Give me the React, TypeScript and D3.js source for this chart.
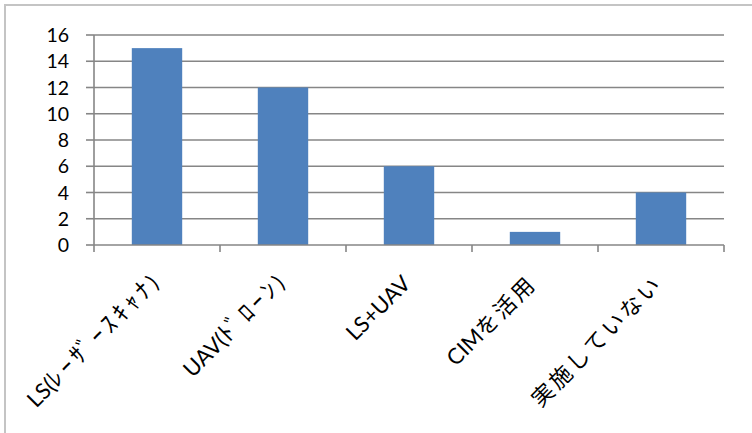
import React from "react";
import * as d3 from "d3";

const categories = ["LS(ﾚｰｻﾞｰｽｷｬﾅ)", "UAV(ﾄﾞﾛｰﾝ)", "LS+UAV", "CIMを活用", "実施していない"];
const values = [15, 12, 6, 1, 4];
const yTicks = [0, 2, 4, 6, 8, 10, 12, 14, 16];

const W = 752;
const H = 433;
const plot = { left: 94, right: 724, top: 35, bottom: 245 };

type Run = { text: string; kind: "latin" | "cjk" | "half" };

function splitRuns(s: string): Run[] {
  const runs: Run[] = [];
  for (const ch of Array.from(s)) {
    const code = ch.codePointAt(0)!;
    const kind: Run["kind"] =
      code >= 0xff61 && code <= 0xff9f ? "half" : code >= 0x3000 ? "cjk" : "latin";
    const last = runs[runs.length - 1];
    if (last && last.kind === kind) last.text += ch;
    else runs.push({ text: ch, kind });
  }
  return runs;
}

const spacing: Record<Run["kind"], number> = { latin: 0, cjk: 3, half: 4 };
const sizes: Record<Run["kind"], number> = { latin: 22, cjk: 22, half: 24 };

export default function App() {
  const x = d3.scaleBand<string>().domain(categories).range([plot.left, plot.right]).padding(0);
  const y = d3.scaleLinear().domain([0, 16]).range([plot.bottom, plot.top]);
  const bw = x.bandwidth() * 0.4;
  const gridColor = "#868686";
  const edges = categories.map((c) => x(c)!).concat([plot.right]);

  return (
    <svg width={W} height={H} style={{ position: "absolute", left: 0, top: 0, background: "#fff" }}>
      <rect x={5} y={5} width={W + 20} height={H + 20} fill="#fff" stroke="#c4c4c4" strokeWidth={2} />
      {yTicks.map((t) => (
        <g key={t}>
          {t > 0 && (
            <line x1={plot.left} x2={plot.right} y1={y(t)} y2={y(t)} stroke={gridColor} strokeWidth={1.6} />
          )}
          <line x1={plot.left - 8} x2={plot.left} y1={y(t)} y2={y(t)} stroke={gridColor} strokeWidth={1.6} />
          <text
            x={69}
            y={y(t)}
            dy="0.36em"
            textAnchor="end"
            fontFamily="Lato, 'Noto Sans CJK JP', sans-serif"
            fontSize={19.5}
            fill="#000"
          >
            {t}
          </text>
        </g>
      ))}
      {categories.map((c, i) => (
        <rect
          key={c}
          x={x(c)! + (x.bandwidth() - bw) / 2}
          y={y(values[i])}
          width={bw}
          height={y(0) - y(values[i])}
          fill="#4f81bd"
        />
      ))}
      <line x1={plot.left} x2={plot.left} y1={plot.top} y2={plot.bottom} stroke={gridColor} strokeWidth={1.6} />
      <line x1={plot.left} x2={plot.right} y1={plot.bottom} y2={plot.bottom} stroke={gridColor} strokeWidth={1.6} />
      {edges.map((e, i) => (
        <line key={i} x1={e} x2={e} y1={plot.bottom} y2={plot.bottom + 7} stroke={gridColor} strokeWidth={1.6} />
      ))}
      {categories.map((c) => {
        const cx = x(c)! + x.bandwidth() / 2 + 3;
        const cy = plot.bottom + 40;
        return (
          <text
            key={c}
            transform={`translate(${cx},${cy}) rotate(-45)`}
            textAnchor="end"
            fontFamily="Lato, 'Noto Sans CJK JP', sans-serif"
            fontSize={22}
            fill="#000"
          >
            {splitRuns(c).map((r, k) => (
              <tspan key={k} letterSpacing={spacing[r.kind]} fontSize={sizes[r.kind]}>
                {r.text}
              </tspan>
            ))}
          </text>
        );
      })}
    </svg>
  );
}
